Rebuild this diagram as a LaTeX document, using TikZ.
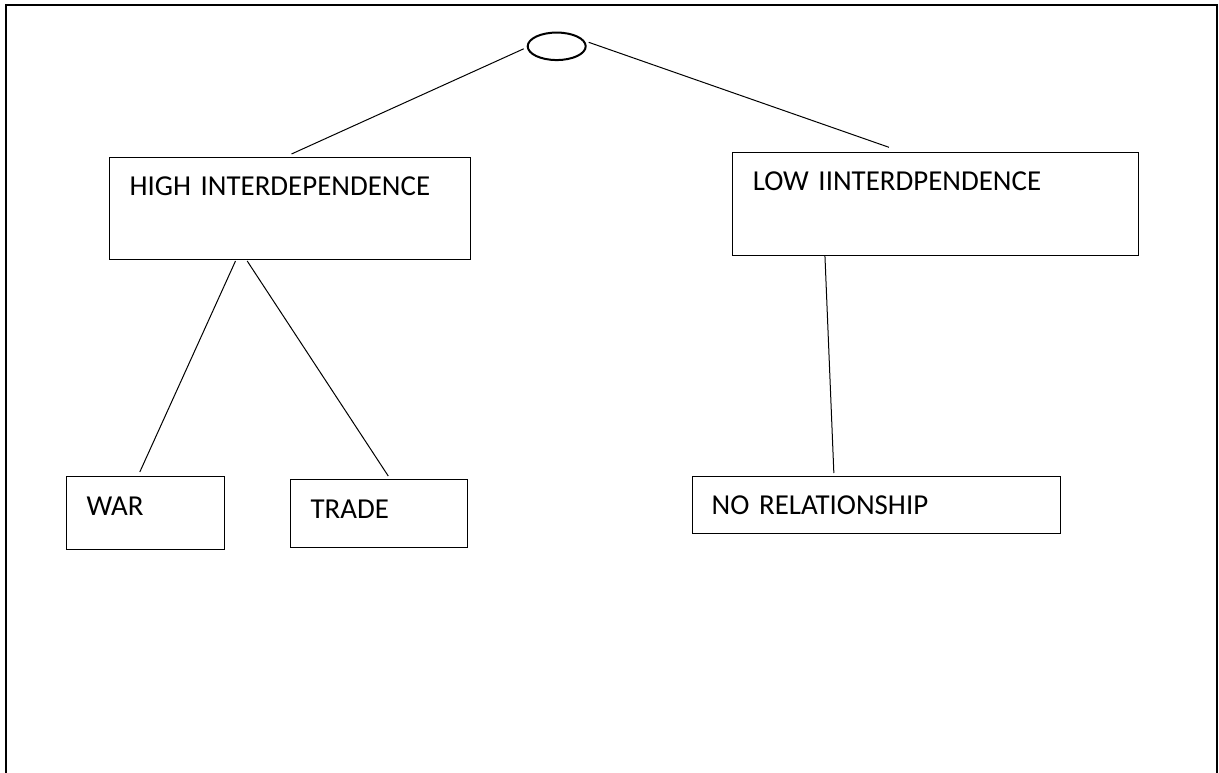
\documentclass[tikz,border=0pt]{standalone}
\usepackage{fontspec}
\setmainfont{Carlito}
\usetikzlibrary{shapes.geometric}
\begin{document}
\begin{tikzpicture}[x=1pt,y=-1pt,
  box/.style={draw, line width=1pt, anchor=north west, inner ysep=0pt, align=left,
    font=\fontsize{28.9}{31}\selectfont},
  conn/.style={line width=1pt},
  oval/.style={draw, ellipse, line width=2pt, minimum width=58pt, minimum height=27.5pt, inner sep=0pt}]
\useasboundingbox (0,0) rectangle (1219,773);
\draw[line width=2pt] (6.3,773) -- (6.3,5.5) -- (1217,5.5) -- (1217,773);
\node[oval] (ell) at (556.7,46.3) {};
\node[box, inner xsep=20pt, text width=321pt, text height=38.3pt, text depth=64.3pt] (hi) at (109,156.7) {HIGH INTERDEPENDENCE};
\node[box, inner xsep=20pt, text width=365.7pt, text height=37.7pt, text depth=65pt] (lo) at (732.3,152.3) {LOW IINTERDPENDENCE};
\node[box, inner xsep=20.5pt, text width=117.6pt, text height=39pt, text depth=34pt] (war) at (65.7,476) {WAR};
\node[box, inner xsep=20pt, text width=136.7pt, text height=38.7pt, text depth=29.3pt] (trade) at (290,479.3) {TRADE};
\node[box, inner xsep=19.5pt, text width=329.3pt, text height=38.3pt, text depth=19.3pt] (no) at (691.7,475.7) {NO RELATIONSHIP};
\draw[conn] ([xshift=-3pt,yshift=-2.5pt]ell.west) -- ([xshift=1.5pt,yshift=2.7pt]hi.north);
\draw[conn] ([xshift=2pt,yshift=4pt]ell.east) -- ([xshift=-46.7pt,yshift=5pt]lo.north);
\draw[conn] ([xshift=-54.5pt,yshift=-0.7pt]hi.south) -- ([xshift=-5.7pt,yshift=4pt]war.north);
\draw[conn] ([xshift=-42.8pt,yshift=-0.7pt]hi.south) -- ([xshift=9.4pt,yshift=3.3pt]trade.north);
\draw[conn] ([xshift=-110.7pt,yshift=0pt]lo.south) -- ([xshift=-42.5pt,yshift=2.7pt]no.north);
\end{tikzpicture}
\end{document}
